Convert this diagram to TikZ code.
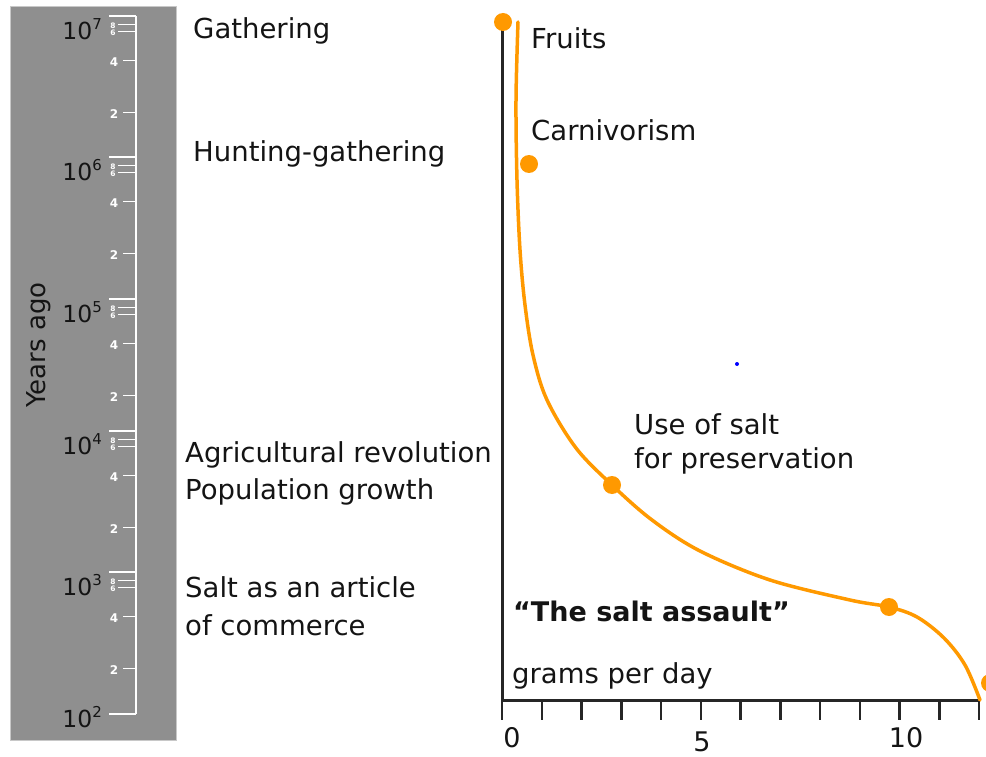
\documentclass[tikz,border=0pt]{standalone}
\usepackage{fontspec}
\setmainfont{DejaVu Sans}
\definecolor{panelgray}{RGB}{143,143,143}
\definecolor{paneledge}{RGB}{200,200,200}
\definecolor{saltorange}{RGB}{255,153,0}
\definecolor{txt}{RGB}{20,20,20}
\begin{document}
\begin{tikzpicture}[x=1pt,y=-1pt,
  lbl/.style={anchor=west,inner sep=0pt,text=txt,font=\fontsize{27.5}{30}\selectfont},
  declbl/.style={anchor=east,inner sep=0pt,text=txt,font=\fontsize{23.5}{24}\selectfont},
  minlbl/.style={inner sep=0pt,text=white,font=\fontsize{12}{12}\selectfont\bfseries},
  tinylbl/.style={inner sep=0pt,text=white,font=\fontsize{7.5}{7.5}\selectfont\bfseries},
  numlbl/.style={inner sep=0pt,text=txt,font=\fontsize{27}{27}\selectfont},
  dot/.style={circle,fill=saltorange,minimum size=18pt,inner sep=0pt},
  axis/.style={line width=3pt,black!85},
  scaleline/.style={white,line width=2.4pt}]
\useasboundingbox (0,0) rectangle (986,757);
% left gray panel
\fill[panelgray] (10,6) rectangle (176,740);
\draw[paneledge,line width=0.8pt] (10,6) rectangle (176,740);
\coordinate (stop) at (136,16);
\coordinate (sbot) at (136,714);
\draw[scaleline] (stop) -- (sbot);
\foreach \d/\e in {16/7,157/6,299/5,431/4,572/3}{
  \draw[scaleline] (109,\d) -- (136,\d);
  \draw[white,line width=1.6pt] (118,\d+8.5) -- (136,\d+8.5);
  \draw[white,line width=1.6pt] (118,\d+15.5) -- (136,\d+15.5);
  \draw[white,line width=1.8pt] (123,\d+44.5) -- (136,\d+44.5);
  \draw[white,line width=1.8pt] (123,\d+96.5) -- (136,\d+96.5);
  \node[tinylbl] at (113,\d+9.5) {8};
  \node[tinylbl] at (113,\d+16.5) {6};
  \node[minlbl] at (114,\d+46) {4};
  \node[minlbl] at (114,\d+98) {2};
  \node[declbl] (dec\e) at (102,\d+13) {10\raisebox{0.42em}{\fontsize{15}{15}\selectfont\e}};
}
\draw[scaleline] (109,714) -- (136,714);
\node[declbl] (dec2) at (102,717) {10\raisebox{0.42em}{\fontsize{15}{15}\selectfont 2}};
\node[rotate=90,inner sep=0pt,text=txt,font=\fontsize{26}{26}\selectfont] (yago) at (39,345) {Years ago};
% era labels
\node[lbl] (gath) at (193,31) {Gathering};
\node[lbl] (hunt) at (193,154) {Hunting-gathering};
\node[lbl] (agri) at (185,455) {Agricultural revolution};
\node[lbl] (pop) at (185,492) {Population growth};
\node[lbl] (salt1) at (185,587) {Salt as an article};
\node[lbl] (salt2) at (185,625) {of commerce};
% axes
\coordinate (orig) at (502,700);
\coordinate (ytop) at (502,22);
\coordinate (xend) at (980,700);
\draw[axis] (ytop) -- (orig) -- (xend);
\foreach \i in {0,...,12}{
  \draw[black!85,line width=2.5pt] (502+\i*39.75,700) -- (502+\i*39.75,720);
}
\node[numlbl] (x0) at (512,738) {0};
\node[numlbl] (x5) at (702,742) {5};
\node[numlbl] (x10) at (906,738) {10};
% curve
\draw[saltorange,line width=3.5pt,line cap=round] plot[smooth,tension=0.55] coordinates {
 (518,22) (516,100) (517,180) (520,250) (525,305) (533,355) (547,400) (576,448) (612,485) (652,520) (700,551) (770,580) (850,600) (889,607) (917,617) (944,638) (965,665) (980,700)};
% dots
\node[dot] (fruitdot) at (503,22) {};
\node[dot] (carndot) at (529,164) {};
\node[dot] (presdot) at (612,485) {};
\node[dot] (assaultdot) at (889,607) {};
\node[dot] (nowdot) at (990,683) {};
\fill[blue] (737,364) circle (2);
% curve labels
\node[lbl] (fruits) at (531,38) {Fruits};
\node[lbl] (carn) at (531,130) {Carnivorism};
\node[lbl] (use1) at (634,424) {Use of salt};
\node[lbl] (use2) at (634,461) {for preservation};
\node[lbl,font=\fontsize{27}{30}\selectfont\bfseries] (assault) at (513,611) {“The salt assault”};
\node[lbl] (gpd) at (512,676) {grams per day};
\end{tikzpicture}
\end{document}
